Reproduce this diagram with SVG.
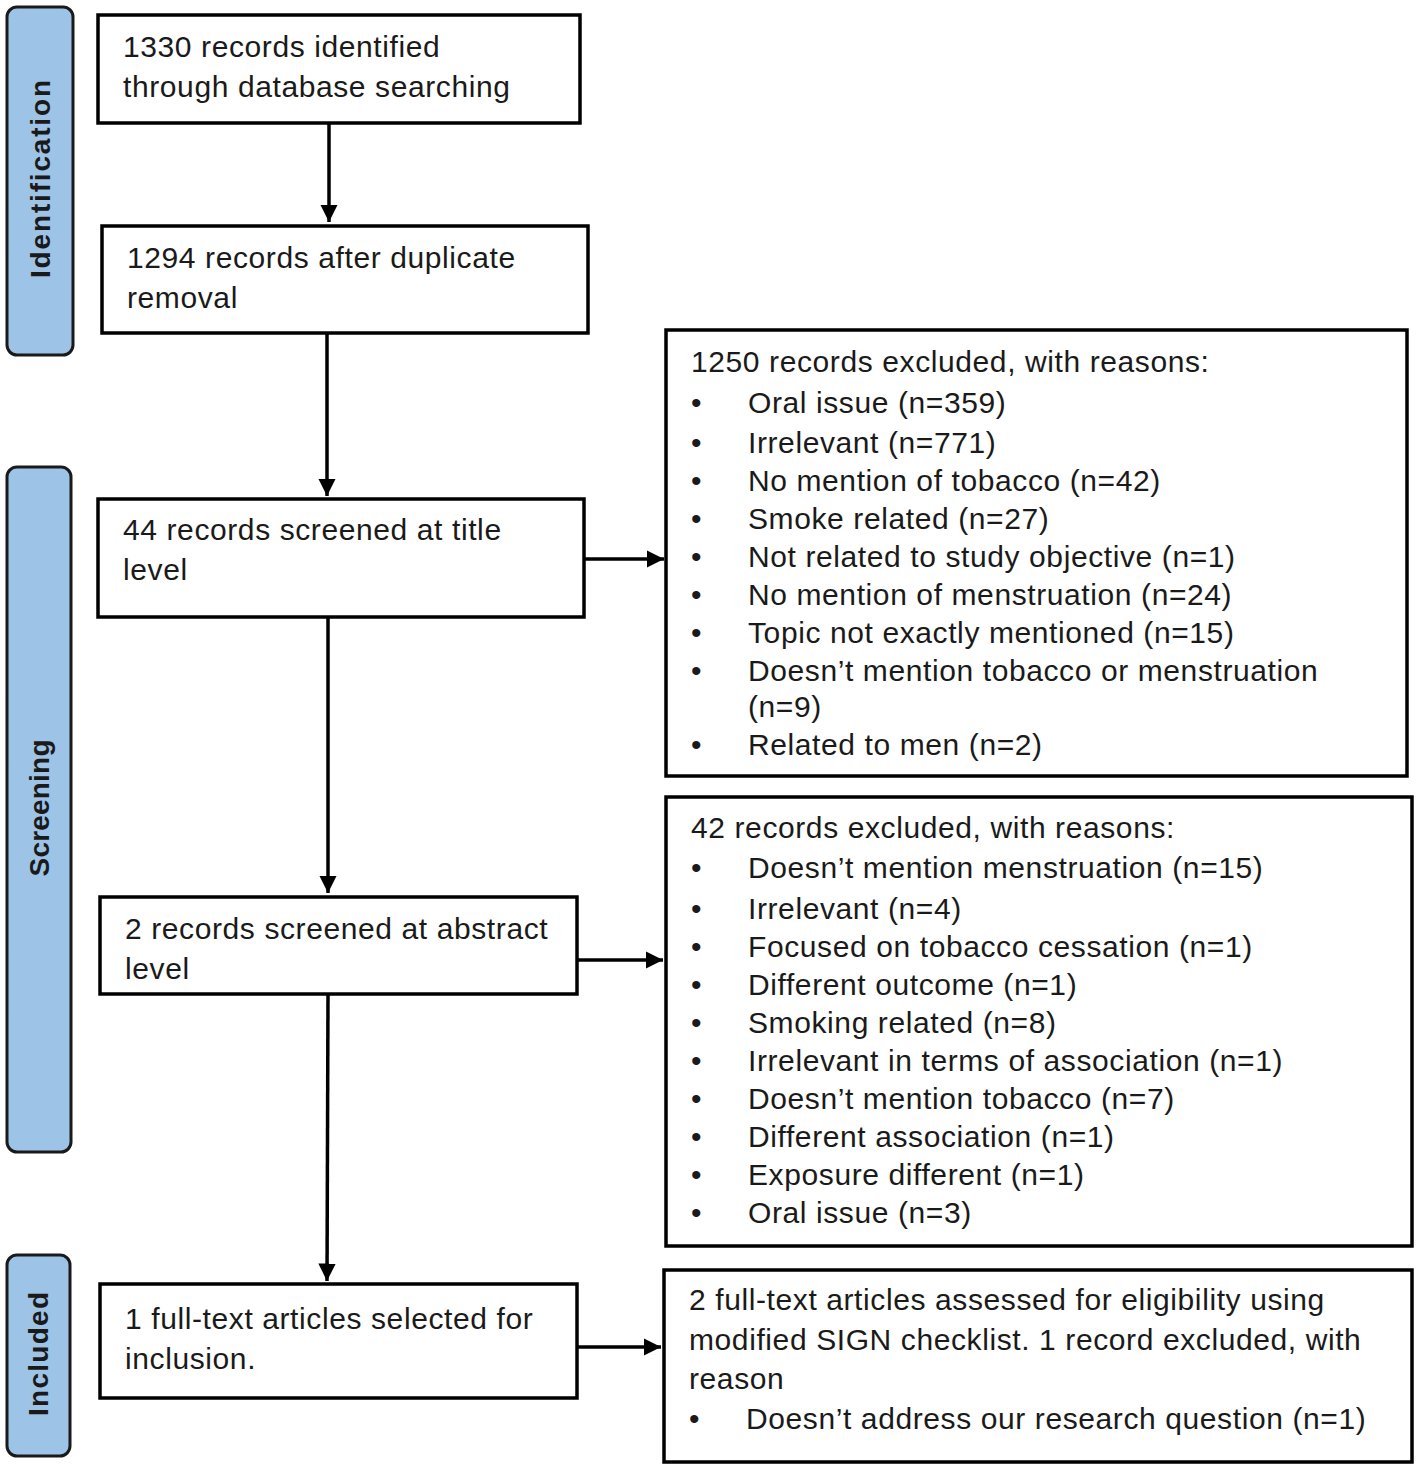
<svg xmlns="http://www.w3.org/2000/svg" width="1417" height="1468" viewBox="0 0 1417 1468">
<style>
.box{fill:#fff;stroke:#000;stroke-width:3.5}
.bar{fill:#9dc3e6;stroke:#1a1a1a;stroke-width:3}
.t{font-family:"Liberation Sans",Arial,sans-serif;font-size:30px;letter-spacing:0.6px;fill:#1a1a1a}
.bt{font-family:"Liberation Sans",Arial,sans-serif;font-size:28px;font-weight:bold;fill:#1a1a1a}
.c{stroke:#000;stroke-width:3.5;fill:none;marker-end:url(#ah)}
</style>
<defs>
<marker id="ah" markerWidth="6" markerHeight="6" refX="5" refY="3" orient="auto" markerUnits="strokeWidth"><path d="M0,0.5 L5,3 L0,5.5 Z" fill="#000"/></marker>
</defs>
<rect width="1417" height="1468" fill="#fff"/>
<g id="phase-identification"><rect class="bar" x="7" y="7" width="66" height="348" rx="10"/><text class="bt" transform="translate(50,179) rotate(-90)" text-anchor="middle" textLength="198" lengthAdjust="spacing">Identification</text></g>
<g id="phase-screening"><rect class="bar" x="7" y="467" width="64" height="685" rx="10"/><text class="bt" transform="translate(49,808) rotate(-90)" text-anchor="middle" textLength="137" lengthAdjust="spacing">Screening</text></g>
<g id="phase-included"><rect class="bar" x="7" y="1255" width="63" height="201" rx="10"/><text class="bt" transform="translate(48,1354) rotate(-90)" text-anchor="middle" textLength="124" lengthAdjust="spacing">Included</text></g>
<g id="connectors">
<line class="c" x1="329" y1="123" x2="329" y2="222"/>
<line class="c" x1="327" y1="333" x2="327" y2="496"/>
<line class="c" x1="328" y1="617" x2="328" y2="893"/>
<line class="c" x1="328" y1="994" x2="327" y2="1281"/>
<line class="c" x1="584" y1="559" x2="664" y2="559"/>
<line class="c" x1="577" y1="960" x2="663" y2="960"/>
<line class="c" x1="577" y1="1347" x2="661" y2="1347"/>
</g>
<g id="n1"><rect class="box" x="98" y="15" width="482" height="108"/><text class="t" x="123" y="57">1330 records identified</text><text class="t" x="123" y="97">through database searching</text></g>
<g id="n2"><rect class="box" x="102" y="226" width="486" height="107"/><text class="t" x="127" y="268">1294 records after duplicate</text><text class="t" x="127" y="308">removal</text></g>
<g id="n3"><rect class="box" x="98" y="499" width="486" height="118"/><text class="t" x="123" y="540">44 records screened at title</text><text class="t" x="123" y="580">level</text></g>
<g id="n4"><rect class="box" x="100" y="897" width="477" height="97"/><text class="t" x="125" y="939">2 records screened at abstract</text><text class="t" x="125" y="979">level</text></g>
<g id="n5"><rect class="box" x="100" y="1284" width="477" height="114"/><text class="t" x="125" y="1329">1 full-text articles selected for</text><text class="t" x="125" y="1369">inclusion.</text></g>
<g id="ex1"><rect class="box" x="666" y="330" width="741" height="446"/>
<text class="t" x="691" y="372">1250 records excluded, with reasons:</text>
<g class="t">
<text x="691" y="413">•</text><text x="748" y="413">Oral issue (n=359)</text>
<text x="691" y="453">•</text><text x="748" y="453">Irrelevant (n=771)</text>
<text x="691" y="491">•</text><text x="748" y="491">No mention of tobacco (n=42)</text>
<text x="691" y="529">•</text><text x="748" y="529">Smoke related (n=27)</text>
<text x="691" y="567">•</text><text x="748" y="567">Not related to study objective (n=1)</text>
<text x="691" y="605">•</text><text x="748" y="605">No mention of menstruation (n=24)</text>
<text x="691" y="643">•</text><text x="748" y="643">Topic not exactly mentioned (n=15)</text>
<text x="691" y="681">•</text><text x="748" y="681">Doesn’t mention tobacco or menstruation</text>
<text x="748" y="717">(n=9)</text>
<text x="691" y="755">•</text><text x="748" y="755">Related to men (n=2)</text>
</g></g>
<g id="ex2"><rect class="box" x="666" y="797" width="746" height="449"/>
<g class="t">
<text x="691" y="838">42 records excluded, with reasons:</text>
<text x="691" y="878">•</text><text x="748" y="878">Doesn’t mention menstruation (n=15)</text>
<text x="691" y="919">•</text><text x="748" y="919">Irrelevant (n=4)</text>
<text x="691" y="957">•</text><text x="748" y="957">Focused on tobacco cessation (n=1)</text>
<text x="691" y="995">•</text><text x="748" y="995">Different outcome (n=1)</text>
<text x="691" y="1033">•</text><text x="748" y="1033">Smoking related (n=8)</text>
<text x="691" y="1071">•</text><text x="748" y="1071">Irrelevant in terms of association (n=1)</text>
<text x="691" y="1109">•</text><text x="748" y="1109">Doesn’t mention tobacco (n=7)</text>
<text x="691" y="1147">•</text><text x="748" y="1147">Different association (n=1)</text>
<text x="691" y="1185">•</text><text x="748" y="1185">Exposure different (n=1)</text>
<text x="691" y="1223">•</text><text x="748" y="1223">Oral issue (n=3)</text>
</g></g>
<g id="ex3"><rect class="box" x="664" y="1270" width="748" height="192"/>
<g class="t">
<text x="689" y="1310">2 full-text articles assessed for eligibility using</text>
<text x="689" y="1350">modified SIGN checklist. 1 record excluded, with</text>
<text x="689" y="1389">reason</text>
<text x="689" y="1429">•</text><text x="746" y="1429">Doesn’t address our research question (n=1)</text>
</g></g>
</svg>
